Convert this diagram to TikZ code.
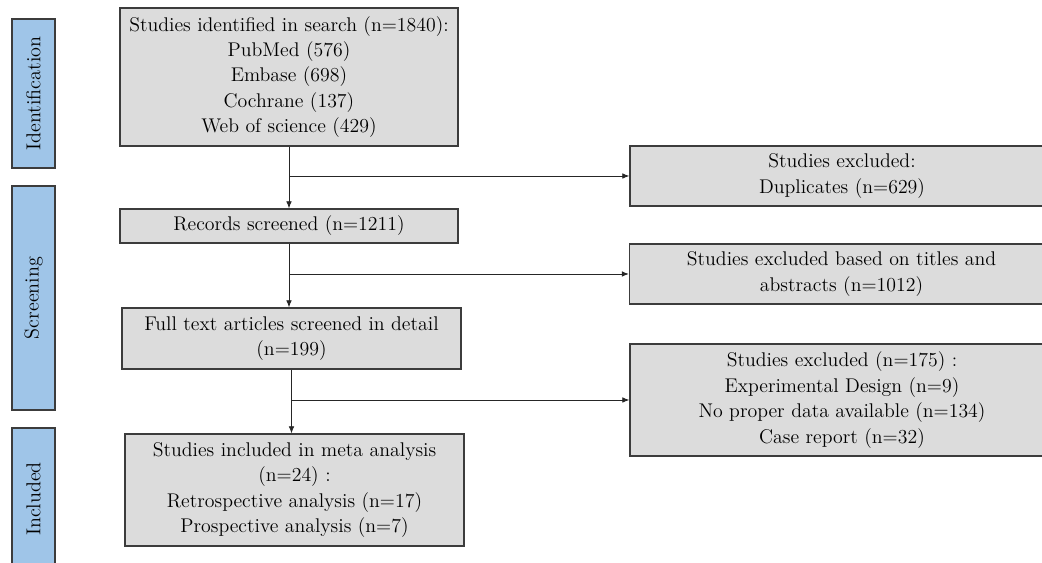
\documentclass[tikz,border=0pt]{standalone}
\usepackage{tikz}
\usetikzlibrary{arrows.meta}

\definecolor{boxgray}{HTML}{DCDCDC}
\definecolor{barblue}{HTML}{9FC5E8}
\definecolor{edgegray}{HTML}{3C3C3C}

\tikzset{
  flowbox/.style={draw=edgegray, fill=boxgray, line width=0.9pt, align=center,
    inner sep=2pt, font=\fontsize{14.1}{18.1}\selectfont},
  phasebar/.style={draw=edgegray, fill=barblue, line width=0.9pt, rotate=90,
    minimum height=1.075cm, inner sep=0pt, font=\fontsize{14.3}{16}\selectfont},
  flowarrow/.style={draw=black!85, line width=0.6pt, -{Latex[length=5pt,width=4pt]}},
  flowline/.style={draw=black!85, line width=0.6pt}
}

\begin{document}
\begin{tikzpicture}[x=0.025cm, y=-0.025cm]
  \clip (0,0) rectangle (1042,563);
  \fill[white] (0,0) rectangle (1042,563);

  \node[phasebar, minimum width=3.725cm] (ident) at (33.5,93.5) {Identification};
  \node[phasebar, minimum width=5.6cm] (screen) at (33.5,298) {Screening};
  \node[phasebar, minimum width=3.55cm] (incl) at (33.5,499) {Included};

  \node[flowbox, minimum width=8.45cm, minimum height=3.45cm] (search) at (289,77)
    {Studies identified in search (n=1840):\\ PubMed (576)\\ Embase (698)\\ Cochrane (137)\\ Web of science (429)};
  \node[flowbox, minimum width=8.45cm, minimum height=0.85cm] (records) at (289,226)
    {Records screened (n=1211)};
  \node[flowbox, minimum width=8.475cm, minimum height=1.525cm] (fulltext) at (291.5,338.5)
    {Full text articles screened in detail\\ (n=199)};
  \node[flowbox, minimum width=8.475cm, minimum height=2.8cm] (included) at (294.5,490)
    {Studies included in meta analysis\\ (n=24) :\\ Retrospective analysis (n=17)\\ Prospective analysis (n=7)};

  \node[flowbox, minimum width=10.6cm, minimum height=1.5cm] (dupl) at (842,176)
    {Studies excluded:\\ Duplicates (n=629)};
  \node[flowbox, minimum width=10.6cm, minimum height=1.5cm] (titles) at (841.5,274)
    {Studies excluded based on titles and\\ abstracts (n=1012)};
  \node[flowbox, minimum width=10.6cm, minimum height=2.8cm] (details) at (842,400)
    {Studies excluded (n=175) :\\ Experimental Design (n=9)\\ No proper data available (n=134)\\ Case report (n=32)};

  \coordinate (split1) at (search.south |- dupl.west);
  \coordinate (split2) at (records.south |- titles.west);
  \coordinate (split3) at (fulltext.south |- details.west);

  \draw[flowarrow] (search.south) -- (search.south |- records.north);
  \draw[flowarrow] (split1) -- (dupl.west);
  \draw[flowarrow] (records.south) -- (records.south |- fulltext.north);
  \draw[flowarrow] (split2) -- (titles.west);
  \draw[flowarrow] (fulltext.south) -- (fulltext.south |- included.north);
  \draw[flowarrow] (split3) -- (details.west);
\end{tikzpicture}
\end{document}
